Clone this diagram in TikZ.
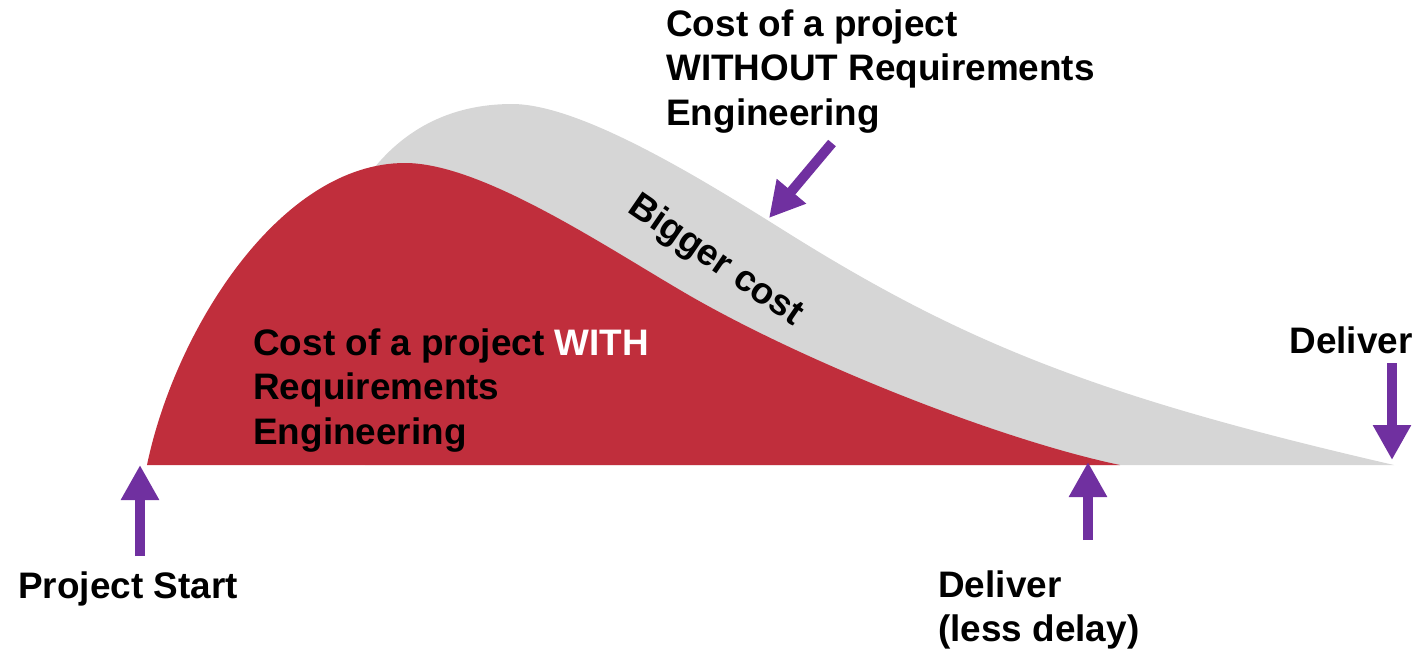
\documentclass[tikz,border=0pt]{standalone}
\usepackage{fontspec}
\setmainfont{Liberation Sans}
\usepackage{tikz}
\usetikzlibrary{arrows.meta,positioning}
\definecolor{rered}{RGB}{192,46,60}
\definecolor{regray}{RGB}{214,214,214}
\definecolor{repurple}{RGB}{112,48,160}

\begin{document}
\begin{tikzpicture}[
  x=0.02cm,y=-0.02cm,
  every node/.style={font=\bfseries\fontsize{21}{25.5}\selectfont,inner sep=0pt,align=left},
  pointer/.style={draw=repurple,line width=0.2cm,-{Triangle[length=0.7cm,width=0.72cm]}}
]
\useasboundingbox (0,0) rectangle (1414,650);

% cost curves
\fill[regray] (365,180) .. controls (400,130) and (450,104) .. (512,104)
  .. controls (580,104) and (700,178) .. (780,228)
  .. controls (960,341.4) and (1094,396) .. (1394,465) -- (365,465) -- cycle;
\fill[rered] (147,465) .. controls (175,330) and (280,163) .. (405,163)
  .. controls (480,163) and (600,243) .. (680,290)
  .. controls (800,361) and (1000,440) .. (1120,465) -- cycle;

% labels
\node[anchor=north west] (without) at (666,9) {Cost of a project\\WITHOUT Requirements\\Engineering};
\node[anchor=north west] (with) at (253,328) {Cost of a project \textcolor{white}{WITH}\\Requirements\\Engineering};
\node[anchor=base,rotate=-34.5] (bigger) at (710,269) {Bigger cost};
\node[anchor=base west] (start) at (18,598) {Project Start};
\node[anchor=north west] (early) at (938,570) {Deliver\\(less delay)};
\node[anchor=base west] (late) at (1289,353) {Deliver};

% arrows
\coordinate (startTail) at (140,556);
\coordinate (startTip) at (140,465);
\coordinate (earlyTail) at (1088,540);
\coordinate (earlyTip) at (1088,462);
\coordinate (lateTail) at (1392,363);
\coordinate (lateTip) at (1392,460);
\coordinate (costTail) at (832,143);
\coordinate (costTip) at (769,218);
\draw[pointer] (startTail) -- (startTip);
\draw[pointer] (earlyTail) -- (earlyTip);
\draw[pointer] (lateTail) -- (lateTip);
\draw[pointer] (costTail) -- (costTip);
\end{tikzpicture}
\end{document}
